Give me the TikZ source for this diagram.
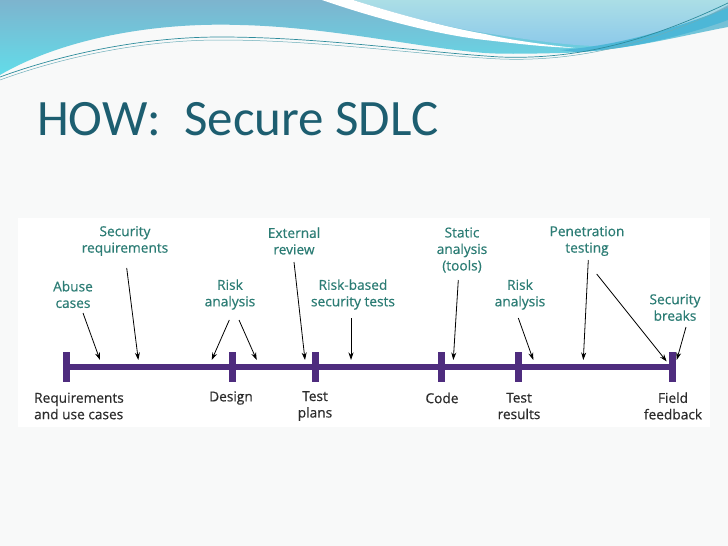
\documentclass[tikz,border=0pt]{standalone}
\usepackage{fontspec}
\setmainfont{Open Sans}
\newfontfamily\titlefont{Carlito}
\newfontfamily\labfont[BoldFont={Open Sans}, BoldFeatures={FakeBold=0.5}]{Open Sans}
\usetikzlibrary{arrows.meta}
\definecolor{bgc}{HTML}{F8F9F9}
\definecolor{bandtop}{HTML}{7DB4CE}
\definecolor{bandbot}{HTML}{62DCE9}
\definecolor{lighttop}{HTML}{ABDEE6}
\definecolor{lightbot}{HTML}{8CC9EA}
\definecolor{cyanband}{HTML}{4DB7D7}
\definecolor{wavel}{HTML}{2E8C9C}
\definecolor{titlec}{HTML}{1D5E70}
\definecolor{labteal}{HTML}{2B7C74}
\definecolor{labdark}{HTML}{2B2B2B}
\definecolor{purp}{HTML}{4E2C7E}
\tikzset{
  toplab/.style={text=labteal, font=\labfont\bfseries\fontsize{13.7}{16.5}\selectfont, align=center, inner sep=0pt},
  botlab/.style={text=labdark, font=\labfont\bfseries\fontsize{13.7}{16.5}\selectfont, align=center, inner sep=0pt},
  arr/.style={draw=black, line width=0.8pt, -{Stealth[length=7.5pt,width=5pt]}},
}
\begin{document}
\begin{tikzpicture}[x=1pt,y=-1pt]
\useasboundingbox (0,0) rectangle (728,546);
\fill[bgc] (0,0) rectangle (728,546);
% banner
\shade[top color=bandtop, bottom color=bandbot]
  (0,0) -- (728,0) -- (728,27) .. controls (680,36) and (620,52) .. (560,53)
  .. controls (520,54) and (500,54) .. (485,53)
  .. controls (420,48) and (330,27) .. (240,25)
  .. controls (150,22) and (60,40) .. (0,75) -- cycle;
\shade[top color=lighttop, bottom color=lightbot]
  (353,0) .. controls (400,15) and (450,28) .. (485,33)
  .. controls (530,40) and (570,46) .. (600,46)
  .. controls (650,44) and (700,20) .. (728,5) -- (728,0) -- cycle;
\fill[white]
  (322,0) .. controls (380,20) and (440,35) .. (485,40)
  .. controls (520,44) and (545,47) .. (575,48)
  .. controls (540,44) and (510,40) .. (485,34)
  .. controls (450,28) and (400,15) .. (353,0) -- cycle;
\fill[cyanband]
  (560,50) .. controls (630,45) and (690,22) .. (728,8) -- (728,20)
  .. controls (690,34) and (630,50) .. (575,52) -- cycle;
\draw[wavel, line width=0.7pt]
  (0,77) .. controls (60,55) and (140,37) .. (220,37)
  .. controls (320,37) and (420,52) .. (500,57)
  .. controls (580,60) and (650,40) .. (728,3);
\draw[wavel!70, line width=0.5pt]
  (0,80) .. controls (60,58) and (140,40) .. (220,40)
  .. controls (320,40) and (420,55) .. (500,59)
  .. controls (580,62) and (650,43) .. (728,7);
% title
\node[anchor=base west, inner sep=0pt, text=titlec, font=\titlefont\fontsize{51}{60}\selectfont] (title) at (37,135) {HOW:\ \ Secure SDLC};
% diagram box
\fill[white] (18,218) rectangle (710,427);
% timeline
\fill[purp] (66,363.5) rectangle (672,369.5);
\foreach \n/\x in {t1/66, t2/232, t3/315, t4/441, t5/518, t6/672} {
  \fill[purp] (\x-3.5,352) rectangle (\x+3.5,382);
  \coordinate (\n) at (\x,366.5);
}
% bottom labels
\node[botlab, align=left] (req) at (79,406) {Requirements\\and use cases};
\node[botlab] (design) at (231,398) {Design};
\node[botlab] (tplans) at (315,406) {Test\\plans};
\node[botlab] (code) at (442,398) {Code};
\node[botlab] (tres) at (519,406) {Test\\results};
\node[botlab] (field) at (673,406) {Field\\feedback};
% top labels
\node[toplab] (secreq) at (125,241) {Security\\requirements};
\node[toplab] (abuse) at (73,294.5) {Abuse\\cases};
\node[toplab] (risk1) at (230,294.5) {Risk\\analysis};
\node[toplab] (ext) at (294,241) {External\\review};
\node[toplab] (rbst) at (353,294.5) {Risk-based\\security tests};
\node[toplab] (static) at (462,250) {Static\\analysis\\(tools)};
\node[toplab] (risk2) at (520,294.5) {Risk\\analysis};
\node[toplab] (pen) at (587,241) {Penetration\\testing};
\node[toplab] (breaks) at (675,307.5) {Security\\breaks};
% arrow coordinates
\coordinate (a1s) at (83,313);    \coordinate (a1e) at (100,360);
\coordinate (a2s) at (126.7,268); \coordinate (a2e) at (138.3,360);
\coordinate (a3s) at (229.3,320); \coordinate (a3e) at (211.7,360);
\coordinate (a4s) at (239,320);   \coordinate (a4e) at (256.7,360);
\coordinate (a5s) at (294,262);   \coordinate (a5e) at (305,360);
\coordinate (a6s) at (351,318);   \coordinate (a6e) at (351,360);
\coordinate (a7s) at (458.3,280); \coordinate (a7e) at (453.3,360);
\coordinate (a8s) at (518.3,318); \coordinate (a8e) at (533.3,360);
\coordinate (a9s) at (588.3,260); \coordinate (a9e) at (583.3,360);
\coordinate (a10s) at (596.7,274);\coordinate (a10e) at (666.7,361.5);
\coordinate (a11s) at (686,327);  \coordinate (a11e) at (676.7,360);
\foreach \i in {1,...,11} { \draw[arr] (a\i s) -- (a\i e); }
\end{tikzpicture}
\end{document}
